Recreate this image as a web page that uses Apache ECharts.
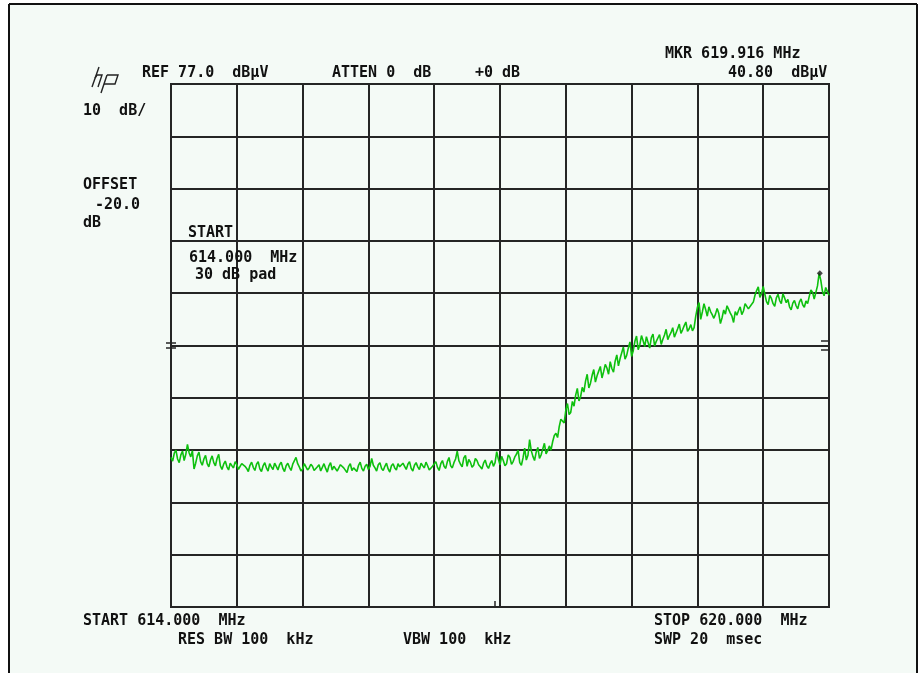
<!DOCTYPE html>
<html>
<head>
<meta charset="utf-8">
<script src="https://cdn.jsdelivr.net/npm/echarts@6/dist/echarts.min.js"></script>
<style>
html,body{margin:0;padding:0;background:#ffffff;}
#chart{width:920px;height:673px;}
</style>
</head>
<body>
<div id="chart"></div>
<script>
// Sweep settings (MHz) and reference level (dBuV)
var startFreq = 614.0;
var stopFreq = 620.0;
var refLevel = 77.0;
var dbPerDiv = 10;
var divisions = 10;
var markerFreq = 619.916;
var markerLevel = 40.80;

// Trace levels in dBuV, 401 points from 614.000 to 620.000 MHz
var levels = [
  5.6, 4.9, 6.4, 7.0, 5.3, 4.6, 6.1, 6.8, 5.0, 6.2,
  8.1, 6.5, 5.7, 6.9, 3.4, 4.5, 5.9, 6.6, 4.8, 4.1,
  5.3, 6.0, 4.4, 3.8, 5.1, 5.9, 4.6, 4.0, 5.4, 6.2,
  4.0, 3.3, 4.3, 4.9, 3.8, 3.2, 4.5, 4.0, 3.6, 4.8,
  4.2, 3.3, 3.9, 4.4, 4.6, 3.9, 3.5, 2.9, 4.1, 4.7,
  3.7, 3.1, 4.3, 4.8, 3.4, 2.9, 4.0, 4.6, 3.6, 3.0,
  4.4, 3.8, 3.3, 4.5, 3.9, 3.2, 4.2, 4.7, 3.5, 2.9,
  4.0, 4.5, 3.7, 3.1, 4.3, 4.0, 5.6, 4.4, 3.8, 3.0,
  3.4, 4.4, 4.1, 3.2, 3.6, 4.3, 3.9, 3.1, 3.3, 3.8,
  4.2, 3.0, 3.7, 4.4, 3.5, 2.8, 4.0, 4.6, 3.2, 3.9,
  3.8, 3.0, 3.6, 4.2, 4.3, 3.6, 3.4, 2.7, 3.9, 4.4,
  3.1, 3.6, 3.7, 2.9, 4.1, 4.7, 3.5, 3.0, 3.9, 4.3,
  3.3, 3.9, 5.4, 4.1, 3.6, 3.0, 4.2, 4.6, 3.5, 3.1,
  3.9, 4.5, 3.4, 2.8, 4.0, 4.4, 3.6, 3.2, 4.4, 3.8,
  3.7, 4.5, 3.9, 3.3, 4.3, 4.8, 3.5, 3.0, 4.1, 4.6,
  3.8, 3.3, 4.5, 4.0, 3.6, 4.7, 4.0, 3.2, 3.4, 3.9,
  4.2, 4.8, 3.7, 3.1, 4.4, 5.0, 3.9, 3.5, 4.8, 5.6,
  4.0, 3.6, 4.6, 5.3, 6.8, 5.0, 4.3, 3.8, 5.5, 6.0,
  3.9, 5.2, 4.7, 3.7, 4.1, 5.4, 5.0, 4.2, 3.8, 3.4,
  4.5, 5.1, 4.0, 3.5, 4.4, 5.0, 3.9, 4.6, 6.7, 5.3,
  4.2, 5.8, 5.0, 4.0, 4.4, 6.1, 5.6, 4.3, 4.8, 5.7,
  6.2, 7.0, 4.6, 4.1, 5.5, 7.4, 5.1, 6.0, 9.0, 6.9,
  5.8, 5.0, 6.6, 7.5, 5.4, 6.1, 7.2, 8.3, 6.3, 6.9,
  7.8, 7.0, 8.6, 9.8, 10.2, 9.4, 11.5, 12.9, 13.0, 12.2,
  14.6, 15.9, 13.8, 14.2, 16.3, 15.4, 17.5, 18.8, 16.4, 17.2,
  19.0, 18.1, 20.2, 21.5, 18.9, 19.8, 21.3, 22.4, 20.0, 21.2,
  22.1, 23.0, 20.8, 22.0, 23.4, 22.7, 21.5, 23.9, 22.6, 21.9,
  24.0, 25.2, 23.1, 24.5, 25.6, 26.7, 24.4, 25.1, 26.5, 27.7,
  24.9, 26.0, 27.8, 28.8, 26.2, 27.1, 28.9, 27.9, 26.8, 28.7,
  27.6, 26.5, 28.5, 29.2, 26.9, 27.8, 28.0, 29.1, 27.2, 28.2,
  29.0, 30.1, 28.1, 28.9, 29.5, 30.4, 28.6, 29.4, 30.2, 31.1,
  29.3, 30.0, 30.8, 31.5, 29.7, 30.2, 31.0, 29.8, 30.4, 32.6,
  34.3, 35.2, 32.0, 33.4, 35.0, 33.9, 32.6, 34.4, 33.5, 32.9,
  32.2, 33.0, 34.1, 33.1, 31.2, 32.3, 33.8, 33.0, 34.6, 33.9,
  33.2, 32.6, 31.4, 33.5, 32.8, 33.7, 34.4, 32.9, 33.6, 35.0,
  34.8, 34.0, 33.9, 34.9, 35.3, 36.6, 37.5, 38.2, 36.2, 36.9,
  38.3, 36.8, 35.4, 34.8, 36.6, 36.0, 35.0, 34.5, 36.1, 36.8,
  35.6, 35.0, 36.9, 36.1, 35.2, 35.8, 34.4, 33.8, 35.1, 35.6,
  34.6, 34.0, 35.3, 35.9, 34.8, 34.3, 35.5, 35.0, 36.4, 37.6,
  37.2, 35.9, 36.0, 38.4, 40.8, 39.5, 37.4, 36.5, 38.1, 37.3,
  36.6
];

// Annotation texts
var labels = {
  ref: 'REF 77.0  dB\u03bcV',
  atten: 'ATTEN 0  dB',
  plus: '+0 dB',
  mkr: 'MKR 619.916 MHz',
  mkrLevel: '40.80  dB\u03bcV',
  scale: '10  dB/',
  offset1: 'OFFSET',
  offset2: '-20.0',
  offset3: 'dB',
  startT: 'START',
  startF: '614.000  MHz',
  pad: '30 dB pad',
  startB: 'START 614.000  MHz',
  rbw: 'RES BW 100  kHz',
  vbw: 'VBW 100  kHz',
  stop: 'STOP 620.000  MHz',
  swp: 'SWP 20  msec'
};

var step = (stopFreq - startFreq) / (levels.length - 1);
var traceData = levels.map(function (v, i) { return [startFreq + i * step, v]; });

var GL = 171, GT = 84, GW = 658, GH = 523;
var FONT = 'bold 15px "DejaVu Sans Mono", monospace';
var INK = '#111111';
var GRIDC = '#252525';

function txt(t, x, y) {
  return { type: 'text', x: x, y: y, style: { text: t, font: FONT, fill: INK, align: 'left', verticalAlign: 'middle' }, z: 10 };
}
function ln(x1, y1, x2, y2, w, c) {
  return { type: 'line', shape: { x1: x1, y1: y1, x2: x2, y2: y2 }, style: { stroke: c || GRIDC, lineWidth: w || 2 }, z: 10 };
}

var chart = echarts.init(document.getElementById('chart'), null, { renderer: 'canvas' });
chart.setOption({
  animation: false,
  backgroundColor: '#ffffff',
  grid: { left: GL, top: GT, width: GW, height: GH, show: true, borderColor: GRIDC, borderWidth: 2, backgroundColor: 'transparent' },
  xAxis: [
    { type: 'value', min: 0, max: divisions, interval: 1, axisLabel: { show: false }, axisTick: { show: false },
      axisLine: { show: false }, splitLine: { show: true, lineStyle: { color: GRIDC, width: 2 } } },
    { type: 'value', min: startFreq, max: stopFreq, show: false, splitLine: { show: false } }
  ],
  yAxis: [
    { type: 'value', min: 0, max: divisions, interval: 1, axisLabel: { show: false }, axisTick: { show: false },
      axisLine: { show: false }, splitLine: { show: true, lineStyle: { color: GRIDC, width: 2 } } },
    { type: 'value', min: refLevel - dbPerDiv * divisions, max: refLevel, show: false, splitLine: { show: false } }
  ],
  series: [
    { type: 'line', xAxisIndex: 1, yAxisIndex: 1, data: traceData, showSymbol: false, symbol: 'none',
      lineStyle: { color: '#0ec00e', width: 1.6 }, z: 5 },
    { type: 'scatter', xAxisIndex: 1, yAxisIndex: 1, data: [[markerFreq, markerLevel]], symbol: 'diamond',
      symbolSize: 6, itemStyle: { color: '#1a1a1a' }, z: 6 }
  ],
  graphic: [
    { type: 'rect', shape: { x: 9, y: 4, width: 908, height: 669 }, style: { fill: '#f4faf6' }, z: -10, silent: true },
    ln(9, 4, 917, 4, 2, '#111'),
    ln(9, 4, 9, 673, 2, '#111'),
    ln(917, 4, 917, 673, 2, '#111'),
    // hp logo
    { type: 'polyline', shape: { points: [[99, 67], [92, 87]] }, style: { stroke: '#222', lineWidth: 1.4, fill: null }, z: 10 },
    { type: 'polyline', shape: { points: [[95, 78], [97, 75], [102, 75], [98, 87]] }, style: { stroke: '#222', lineWidth: 1.4, fill: null }, z: 10 },
    { type: 'polyline', shape: { points: [[107, 75], [101, 93]] }, style: { stroke: '#222', lineWidth: 1.4, fill: null }, z: 10 },
    { type: 'polyline', shape: { points: [[107, 75], [118, 75], [115, 84], [104, 84]] }, style: { stroke: '#222', lineWidth: 1.4, fill: null }, z: 10 },
    txt(labels.ref, 142, 73),
    txt(labels.atten, 332, 73),
    txt(labels.plus, 475, 73),
    txt(labels.mkr, 665, 54),
    txt(labels.mkrLevel, 728, 73),
    txt(labels.scale, 83, 111),
    txt(labels.offset1, 83, 185),
    txt(labels.offset2, 95, 205),
    txt(labels.offset3, 83, 223),
    txt(labels.startT, 188, 233),
    txt(labels.startF, 189, 258),
    txt(labels.pad, 195, 275),
    txt(labels.startB, 83, 621),
    txt(labels.rbw, 178, 640),
    txt(labels.vbw, 403, 640),
    txt(labels.stop, 654, 621),
    txt(labels.swp, 654, 640),
    // display-line markers at the edges and center-frequency tick
    ln(166, 343, 176, 343, 1.5), ln(166, 348, 176, 348, 1.5),
    ln(821, 341, 829, 341, 1.5), ln(821, 350, 829, 350, 1.5),
    ln(495, 601, 495, 607, 1.5)
  ]
});
</script>
</body>
</html>
